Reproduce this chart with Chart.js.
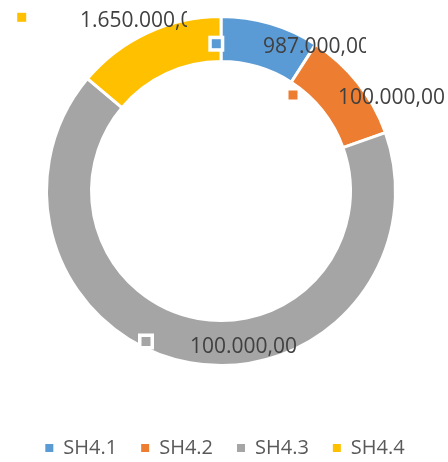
<!DOCTYPE html>
<html>
<head>
<meta charset="utf-8">
<script src="https://cdn.jsdelivr.net/npm/chart.js@4.4.0/dist/chart.umd.min.js"></script>
<style>
  html, body { margin: 0; padding: 0; background: #fff; overflow: hidden; }
  #wrap { position: relative; width: 448px; height: 462px; }
</style>
</head>
<body>
<div id="wrap"><canvas id="chart"></canvas></div>
<script>
const categories = ["SH4.1", "SH4.2", "SH4.3", "SH4.4"];
const amounts = [987000, 1130000, 7200000, 1500000];
const labelTexts = ["987.000,00", "100.000,00", "100.000,00", "1.650.000,00"];
const colors = ["#5B9BD5", "#ED7D31", "#A5A5A5", "#FFC000"];

// where the data labels were dragged to, relative to the ring centre
const labelSpots = [
  { mx: -4.7, my: -147.3, tx: 42, ty: -138, clip: 366, frame: true },
  { mx: 72, my: -96, tx: 117, ty: -87, clip: 448, frame: false },
  { mx: -75, my: 150.5, tx: -31, ty: 161.5, clip: 297, frame: true },
  { mx: -199.3, my: -173.7, tx: -141, ty: -164.5, clip: 187, frame: false }
];

const dataLabels = {
  id: "dataLabels",
  afterDatasetsDraw(chart) {
    const ctx = chart.ctx;
    const arc = chart.getDatasetMeta(0).data[0];
    const cx = arc.x, cy = arc.y;
    ctx.save();
    labelSpots.forEach((s, i) => {
      const mx = cx + s.mx, my = cy + s.my;
      if (s.frame) {
        ctx.fillStyle = "#fff";
        ctx.fillRect(mx - 8, my - 8, 16, 16);
      }
      ctx.fillStyle = colors[i];
      ctx.fillRect(mx - 4.5, my - 4.5, 9, 9);

      ctx.save();
      ctx.beginPath();
      ctx.rect(0, 0, s.clip, chart.height);
      ctx.clip();
      ctx.font = "21px 'Open Sans'";
      ctx.fillStyle = "#404040";
      ctx.textBaseline = "alphabetic";
      ctx.fillText(labelTexts[i], cx + s.tx, cy + s.ty);
      ctx.restore();
    });
    ctx.restore();
  }
};

// legend reserves more room than it draws in, then sits near the bottom
const legendSpace = {
  id: "legendSpace",
  beforeInit(chart) {
    const fit = chart.legend.fit;
    chart.legend.fit = function () {
      fit.call(this);
      this.height = 80;
    };
  },
  afterLayout(chart) {
    const lg = chart.legend;
    lg.top = 414;
    lg.bottom = 462;
    lg.left += 4;
    lg.right += 4;
  }
};

new Chart(document.getElementById("chart"), {
  type: "doughnut",
  data: {
    labels: categories,
    datasets: [{
      data: amounts,
      backgroundColor: colors,
      borderColor: "#ffffff",
      borderWidth: 3,
      radius: 174.5,
      cutout: "74.2%"
    }]
  },
  options: {
    responsive: true,
    maintainAspectRatio: false,
    animation: false,
    layout: { padding: { top: 0, bottom: 0, left: 0, right: 6 } },
    plugins: {
      tooltip: { enabled: false },
      legend: {
        position: "bottom",
        labels: {
          boxWidth: 8,
          boxHeight: 8,
          padding: 24,
          color: "#595959",
          font: { family: "Open Sans", size: 20 },
          generateLabels: chart =>
            Chart.overrides.doughnut.plugins.legend.labels.generateLabels(chart)
              .map(item => ({ ...item, lineWidth: 0 }))
        }
      }
    }
  },
  plugins: [legendSpace, dataLabels]
});
</script>
</body>
</html>
